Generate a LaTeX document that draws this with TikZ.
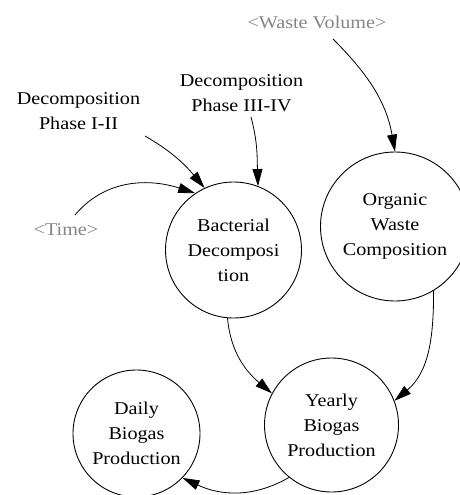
\documentclass[tikz,border=0pt]{standalone}
\usepackage{fontspec}
\setmainfont[FakeStretch=1.12]{Liberation Serif}
\usetikzlibrary{arrows.meta}
\begin{document}
\begin{tikzpicture}[x=1pt,y=-1pt,
  every node/.style={font=\fontsize{18}{25}\selectfont},
  var/.style={circle,draw,line width=0.9pt,inner sep=0pt,align=center},
  lbl/.style={align=center,inner sep=0pt},
  shadowvar/.style={inner sep=0pt,text=black!48},
  link/.style={line width=0.8pt,-{Triangle[length=17pt,width=10pt]}}
]
\useasboundingbox (0,0) rectangle (460,495);
% variables
\node[var,minimum size=136pt] (bd) at (233.5,250) {Bacterial\\Decomposi\\tion};
\node[var,minimum size=149pt] (ow) at (395,226.5) {Organic\\Waste\\Composition};
\node[var,minimum size=134pt] (yb) at (331.5,425) {Yearly\\Biogas\\Production};
\node[var,minimum size=127pt] (db) at (136.5,433.5) {Daily\\Biogas\\Production};
% labels
\node[lbl] (p12) at (78.5,111) {Decomposition\\Phase I-II};
\node[lbl] (p34) at (241.5,93.5) {Decomposition\\Phase III-IV};
\node[shadowvar] (wv) at (317,22) {<Waste Volume>};
\node[shadowvar] (time) at (66,230) {<Time>};
% links
\draw[link] ([shift={(16,17)}]wv.center) to[out=-45,in=100] (ow.90);
\draw[link] ([shift={(66.5,25)}]p12.center) to[out=-30,in=130] (bd.115);
\draw[link] ([shift={(9.5,23.5)}]p34.center) to[out=-75,in=92] (bd.69);
\draw[link] ([shift={(9,-15)}]time.center) to[out=50,in=162] (bd.124);
\draw[link] (bd.-95) to[out=-85,in=140] (yb.152);
\draw[link] (ow.-59) to[out=-90,in=40] (yb.21);
\draw[link] (yb.-129) to[out=-150,in=-25] (db.-44);
\end{tikzpicture}
\end{document}
